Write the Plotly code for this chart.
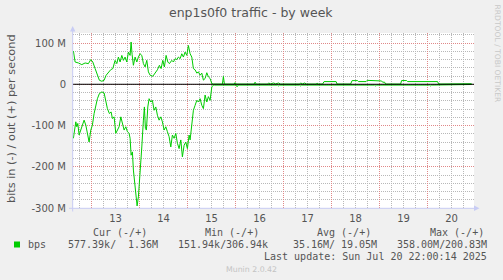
import pandas as pd
import plotly.graph_objects as go

# ---------------- data (hours after 2025-07-13 00:00, values in Mbit/s) ----------------
out_hours = [-9.1, -8.25, -6.6, -4.9, -3.25, -1.6, -0.4, 0.6, 1.75, 2.9, 3.9, 5.1, 6.25, 7.25, 8.4, 9.6,
             10.6, 11.75, 12.6, 13.4, 14.25, 15.1, 15.9, 16.75, 17.6, 18.4, 19.25, 19.75, 20.25, 20.9,
             21.75, 22.6, 23.4, 24.25, 25.1, 25.9, 26.75, 27.6, 28.4, 29.25, 30.6, 31.75, 32.9, 33.9,
             34.75, 35.6, 36.4, 37.25, 38.1, 38.9, 40.1, 40.9, 41.75, 42.6, 43.4, 44.25, 45.1, 45.9,
             46.75, 47.6, 48.4, 49.25, 50.1, 50.9, 51.75, 52.6, 53.4, 54.25, 55.1, 55.9, 56.75, 57.6,
             58.4, 59.25, 60.1, 60.9,
             61.5, 65.4, 65.9, 66.4, 71.25, 71.75, 72.25, 81.25, 81.75, 82.25, 88, 88.5, 89.5, 91, 92,
             93.5, 94.5, 104, 104.5, 105.5, 106.5, 107.5, 112.25, 112.75, 113.25, 115.5, 116.25, 122.25,
             122.75, 129.5, 130.25, 133.0, 133.5, 137.25, 137.75, 141.5, 142, 145, 145.5, 146.5, 147,
             154.5, 155, 157.5, 158, 173, 173.5, 179.75, 180.25, 180.75, 190]
out_mbps = [80.6, 54, 51.6, 47.6, 51.6, 50, 59.8, 54, 38, 21.8, 9.7, 7.3, 9.7, 21.8, 29.8, 35.5,
            38, 58, 50, 66, 54, 70, 58, 66, 54, 78, 70, 102.5, 72, 46,
            66, 54, 66, 74, 70, 50, 42, 58, 30, 22, 19.4, 27, 35, 46,
            38, 58, 42, 70, 54, 50, 58, 54, 62, 60, 66, 62, 74, 66,
            78, 70, 94, 74, 66, 38, 35, 27, 30, 22, 27, 10, 14, 28,
            18, 14, 1.6, 0.5,
            0.5, 0.5, 19, 0.5, 0.5, 4, 0.5, 0.5, 5, 0.5, 0.5, 3, 1, 3, 1,
            3, 0.5, 0.5, 3, 1, 3, 0.5, 0.5, 2.5, 0.5, 0.5, 6.5, 6.5,
            0.5, 0.5, 8.9, 8.9, 6.5, 6.5, 9.5, 9.5, 8, 8, 5, 5, 0.5,
            0.5, 9, 9, 6.5, 6.5, 0.5, 0.5, 2, 0.5, 1.36]

in_hours = [-9.1, -8.6, -7.9, -7.4, -6.9, -6.25, -5.4, -4.6, -3.75, -2.9, -2.1, -1.25, -0.4, 0.4, 1.25,
            2.1, 2.9, 3.9, 5.1, 6.25, 7.1, 7.9, 8.9, 9.75, 10.4, 11.25, 12.1, 12.9, 13.75, 14.6, 15.4,
            16.25, 17.1, 17.9, 18.75, 19.25, 19.75, 20.4, 20.9, 21.6, 22.25, 22.75, 23.4, 23.9, 24.4,
            25.1, 25.9, 26.4, 26.9, 27.4, 28.1, 28.75, 29.6, 30.4, 31.25, 32.1, 32.9, 33.75, 34.6, 35.4,
            36.25, 37.1, 37.9, 38.75, 39.6, 40.4, 41.25, 42.1, 42.9, 43.75, 44.6, 45.4, 46.25, 47.1,
            47.9, 48.75, 49.25, 50.1, 50.9, 51.75, 52.6, 53.4, 54.25, 55.1, 55.9, 56.75, 57.6, 58.4,
            59.25, 60.1, 60.9,
            61.5, 72.25, 72.75, 73.25, 93, 93.5, 94, 104, 104.5, 105, 141.5, 142, 142.5, 169, 169.5,
            170, 190]
in_mbps = [-131, -111, -91, -103, -95, -123, -111, -95, -87, -99, -119, -140, -111, -99, -71,
           -51, -35, -22.6, -18.6, -21, -39, -59, -71, -67, -83, -79, -119, -111, -103, -79, -99,
           -111, -103, -115, -119, -131, -172, -164, -208, -249, -285, -295, -273, -241, -192,
           -152, -87, -55, -107, -111, -55, -35, -43, -39, -63, -55, -75, -87, -79, -91,
           -111, -103, -115, -127, -152, -123, -131, -119, -143, -156, -135, -176, -148, -140,
           -156, -123, -135, -103, -63, -51, -39, -43, -35, -51, -59, -26, -43, -30,
           -39, -6.5, -2,
           -2, -2, -6, -2, -2, -4, -2, -2, -4, -2, -2, -4, -2, -2, -4,
           -2, -0.6]

y_tick_values = [-300, -200, -100, 0, 100]
y_tick_labels = ["-300 M", "-200 M", "-100 M", "0", "100 M"]
day_labels = ["13", "14", "15", "16", "17", "18", "19", "20"]

legend_headers = ["Cur (-/+)", "Min (-/+)", "Avg (-/+)", "Max (-/+)"]
legend_in_vals = ["577.39k/", "151.94k/", "35.16M/", "358.00M/"]
legend_out_vals = ["1.36M", "306.94k", "19.05M", "200.83M"]
last_update = "Last update: Sun Jul 20 22:00:14 2025"

# ---------------- geometry ----------------
W, H = 503, 280
L, R, T, B = 73, 29, 33, 72
PW, PH = W - L - R, H - T - B

def px(x):
    return (x - L) / PW

def py(y):
    return (H - B - y) / PH

base = pd.Timestamp("2025-07-13 00:00")
def to_dt(hours):
    return [base + pd.Timedelta(hours=h) for h in hours]

x_start = base + pd.Timedelta(hours=-9.3)
x_end = base + pd.Timedelta(hours=-9.3 + PW / 2.0)

GREEN = "#00CC00"
FONT = "#555555"
AXIS = "#C8CCF4"
MGRID = "#E08888"
GRID = "#B8B8B8"

fig = go.Figure()
fig.add_trace(go.Scatter(x=to_dt(in_hours), y=[v * 1e6 for v in in_mbps], mode="lines",
                         line=dict(color=GREEN, width=1), hoverinfo="skip", showlegend=False))
fig.add_trace(go.Scatter(x=to_dt(out_hours), y=[v * 1e6 for v in out_mbps], mode="lines",
                         line=dict(color=GREEN, width=1), hoverinfo="skip", showlegend=False))
# dummy trace to activate the label axis
fig.add_trace(go.Scatter(x=[x_start, x_end], y=[None, None], xaxis="x2", mode="lines",
                         hoverinfo="skip", showlegend=False))

noons = [base + pd.Timedelta(days=i, hours=12) for i in range(len(day_labels))]

fig.update_layout(
    template="none",
    width=W, height=H,
    margin=dict(l=L, r=R, t=T, b=B, pad=0),
    paper_bgcolor="#F0F0F0",
    plot_bgcolor="#FFFFFF",
    showlegend=False,
    xaxis=dict(type="date", range=[x_start, x_end], showticklabels=False, ticks="",
               tick0=base, dtick=86400000, showgrid=True, gridcolor=MGRID, griddash="1px,1px",
               gridwidth=1, zeroline=False, showline=False,
               minor=dict(tick0=base, dtick=21600000, showgrid=True, gridcolor=GRID,
                          griddash="1px,1px", gridwidth=1, ticks="")),
    xaxis2=dict(type="date", overlaying="x", anchor="y", side="bottom", range=[x_start, x_end],
                tickmode="array", tickvals=noons, ticktext=day_labels, showgrid=False,
                zeroline=False, showline=False, ticks="", ticklabelstandoff=3,
                tickfont=dict(family="DejaVu Sans", size=10, color=FONT)),
    yaxis=dict(range=[-300e6, 124.3e6], tickmode="array",
               tickvals=[v * 1e6 for v in y_tick_values], ticktext=y_tick_labels,
               showgrid=True, gridcolor=MGRID, griddash="1px,1px", gridwidth=1,
               zeroline=False, showline=False, ticks="", ticklabelstandoff=6,
               tickfont=dict(family="DejaVu Sans", size=10, color=FONT),
               minor=dict(tick0=0, dtick=20e6, showgrid=True, gridcolor=GRID,
                          griddash="1px,1px", gridwidth=1, ticks="")),
)

shapes = []
# zero rule
shapes.append(dict(type="line", xref="paper", yref="y", x0=0, x1=1, y0=0, y1=0,
                   line=dict(color="#000000", width=1), layer="above"))
# axes with arrows
shapes.append(dict(type="line", xref="paper", yref="paper", x0=px(72.7), x1=px(72.7),
                   y0=py(211.5), y1=py(30), line=dict(color=AXIS, width=1), layer="above"))
shapes.append(dict(type="line", xref="paper", yref="paper", x0=px(69), x1=px(476),
                   y0=py(208.3), y1=py(208.3), line=dict(color=AXIS, width=1), layer="above"))
shapes.append(dict(type="path", xref="paper", yref="paper", layer="above",
                   path=f"M {px(72.7)},{py(26)} L {px(70)},{py(31.5)} L {px(75.4)},{py(31.5)} Z",
                   fillcolor=AXIS, line=dict(width=0)))
shapes.append(dict(type="path", xref="paper", yref="paper", layer="above",
                   path=f"M {px(479.5)},{py(208.3)} L {px(474)},{py(205.6)} L {px(474)},{py(211)} Z",
                   fillcolor=AXIS, line=dict(width=0)))
# legend swatch
shapes.append(dict(type="rect", xref="paper", yref="paper", x0=px(14), x1=px(20),
                   y0=py(247.5), y1=py(241.5), fillcolor=GREEN, line=dict(width=0)))
fig.update_layout(shapes=shapes)

ann = []
def text(x, y, s, size, color=FONT, family="DejaVu Sans", xanchor="center", angle=0):
    ann.append(dict(x=px(x), y=py(y), xref="paper", yref="paper", text=s, showarrow=False,
                    xanchor=xanchor, yanchor="middle", textangle=angle, borderpad=0,
                    font=dict(family=family, size=size, color=color)))

text(250.5, 13, "enp1s0f0 traffic - by week", 12.5)
text(11, 119, "bits in (-) / out (+) per second", 11.3, angle=-90)
text(497.5, 54, "RRDTOOL / TOBI OETIKER", 7.6, color="#C8C8C8", angle=90)
text(251.5, 269.3, "Munin 2.0.42", 7.8, color="#C4C4C4")

MONO = "DejaVu Sans Mono"
hdr_x = [91.7, 203.7, 316, 429]
in_x = [66.7, 177.3, 291.7, 396]
out_x = [159.3, 269.3, 378.3, 488.3]
for i in range(4):
    text(hdr_x[i], 232.3, legend_headers[i].replace(" ", "&nbsp;"), 10, family=MONO, xanchor="left")
    text(in_x[i], 244.5, legend_in_vals[i], 10, family=MONO, xanchor="left")
    text(out_x[i], 244.5, legend_out_vals[i], 10, family=MONO, xanchor="right")
text(26.7, 244.5, "bps", 10, family=MONO, xanchor="left")
text(488.3, 256, last_update.replace(" ", "&nbsp;"), 10, family=MONO, xanchor="right")

fig.update_layout(annotations=ann)
fig.write_html("out.html")
